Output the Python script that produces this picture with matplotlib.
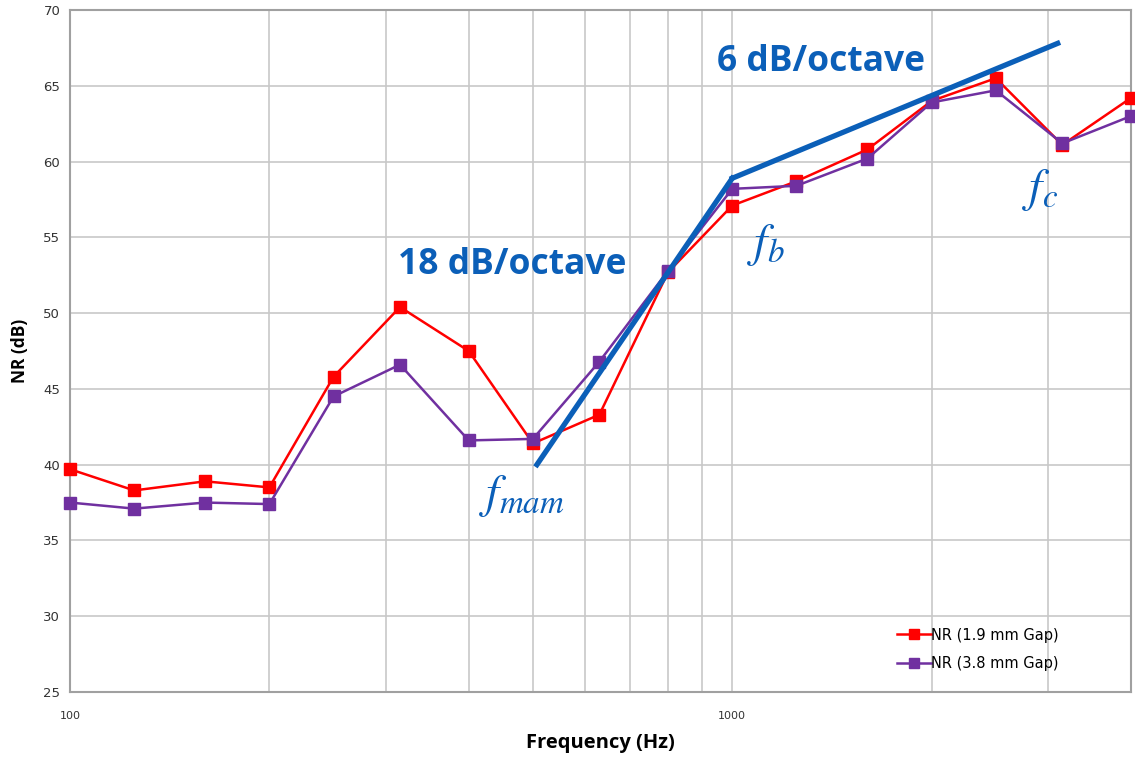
import matplotlib.pyplot as plt
from matplotlib.ticker import FixedLocator, NullFormatter

freq = [100, 125, 160, 200, 250, 315, 400, 500, 630, 800, 1000, 1250, 1600, 2000, 2500, 3150, 4000]
nr_19 = [39.7, 38.3, 38.9, 38.5, 45.8, 50.4, 47.5, 41.4, 43.3, 52.7, 57.1, 58.7, 60.8, 64.0, 65.5, 61.1, 64.2]
nr_38 = [37.5, 37.1, 37.5, 37.4, 44.5, 46.6, 41.6, 41.7, 46.8, 52.8, 58.2, 58.4, 60.2, 63.9, 64.7, 61.2, 63.0]

# slope guide lines
slope18_x = [507, 1000]
slope18_y = [40.0, 58.9]
slope6_x = [1000, 3100]
slope6_y = [58.9, 67.8]

red = '#FF0000'
purple = '#7030A0'
blue = '#0B5FB8'

fig = plt.figure(figsize=(11.35, 7.61), dpi=100)
ax = fig.add_axes([70/1135, 1-692/761, (1131-70)/1135, (692-10)/761])

ax.plot(freq, nr_19, color=red, lw=1.8, marker='s', ms=9, label='NR (1.9 mm Gap)', zorder=3, clip_on=False)
ax.plot(freq, nr_38, color=purple, lw=1.8, marker='s', ms=9, label='NR (3.8 mm Gap)', zorder=3, clip_on=False)
ax.plot(slope18_x, slope18_y, color=blue, lw=3.8, zorder=4)
ax.plot(slope6_x, slope6_y, color=blue, lw=3.8, zorder=4)

ax.set_xscale('log')
ax.set_xlim(100, 4000)
ax.set_ylim(25, 70)
ax.set_yticks(range(25, 71, 5))
ax.xaxis.set_major_locator(FixedLocator([100, 1000]))
ax.xaxis.set_minor_locator(FixedLocator([200, 300, 400, 500, 600, 700, 800, 900, 2000, 3000]))
ax.xaxis.set_minor_formatter(NullFormatter())
ax.set_xticklabels(['100', '1000'])
ax.grid(True, which='both', color='#C8C8C8', lw=1.2)
ax.set_axisbelow(True)
ax.tick_params(which='both', length=0)
ax.tick_params(axis='y', labelsize=9.5, colors='#333333', pad=7)
ax.tick_params(axis='x', labelsize=8, colors='#333333', pad=14)
for s in ax.spines.values():
    s.set_color('#A0A0A0')
    s.set_linewidth(1.5)

ax.set_xlabel('Frequency (Hz)', fontsize=14.5, fontweight='bold', family='Open Sans', labelpad=8)
ax.set_ylabel('NR (dB)', fontsize=12.5, fontweight='bold', family='Open Sans', labelpad=10)

ax.text(466, 53.2, '18 dB/octave', fontsize=25.5, fontweight='bold', color=blue,
        family='Open Sans', ha='center', va='center')
ax.text(1363, 66.6, '6 dB/octave', fontsize=25.5, fontweight='bold', color=blue,
        family='Open Sans', ha='center', va='center')
ax.text(482, 37.9, r'$f_{mam}$', fontsize=34, color=blue, math_fontfamily='stix',
        ha='center', va='center')
ax.text(1122, 54.5, r'$f_{b}$', fontsize=34, color=blue, math_fontfamily='stix',
        ha='center', va='center')
ax.text(2918, 58.1, r'$f_{c}$', fontsize=34, color=blue, math_fontfamily='stix',
        ha='center', va='center')

ax.legend(loc='lower right', bbox_to_anchor=(0.944, 0.012), frameon=False, fontsize=10.5,
          handlelength=2.3, handletextpad=0.0, labelspacing=0.9, markerscale=0.85)

fig.savefig('out.png', dpi=100)
